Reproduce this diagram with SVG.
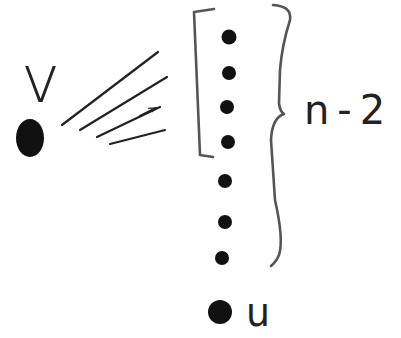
<svg xmlns="http://www.w3.org/2000/svg" width="401" height="338" viewBox="0 0 401 338">
<style>
.ink{fill:#111;}
.stroke{fill:none;stroke:#222;stroke-width:2.2;stroke-linecap:round;stroke-linejoin:round;}
.grey{fill:none;stroke:#555;stroke-width:2.6;stroke-linecap:round;stroke-linejoin:round;}
.lbl{font-family:"DejaVu Sans",sans-serif;fill:#222;}
</style>
<defs>
<marker id="half" viewBox="0 0 10 10" refX="9" refY="5" markerWidth="8" markerHeight="8" orient="auto" markerUnits="userSpaceOnUse">
<path d="M0,1 L9,5 L2,7" fill="none" stroke="#222" stroke-width="1.5"/>
</marker>
</defs>
<rect width="401" height="338" fill="#fff"/>
<g id="connectors">
<path class="stroke" d="M62,125 L158,52"/>
<path class="stroke" d="M80,130 L167,77"/>
<path class="stroke" d="M97,137 L160,107"/>
<path class="stroke" d="M140,116 L156,108" marker-end="url(#half)"/>
<path class="stroke" d="M110,144 L165,130"/>
</g>
<g id="node-v">
<ellipse class="ink" cx="30" cy="138" rx="14" ry="19"/>
<text class="lbl" x="21" y="102" font-size="66" font-weight="300" fill="#555">v</text>
</g>
<g id="bracket">
<path class="grey" d="M214,9 L194,12 L200,155 L213,157"/>
</g>
<g id="brace">
<path class="grey" d="M273,5 Q292,6 290,20 Q282,45 280,70 L279,103 Q280,112 284,114 Q272,118 271,140 L275,200 Q284,240 279,255 Q276,262 271,266"/>
<text class="lbl" x="304" y="124" font-size="40" letter-spacing="8">n-2</text>
</g>
<g id="dot1"><circle class="ink" cx="229" cy="37" r="7.5"/></g>
<g id="dot2"><circle class="ink" cx="229" cy="73" r="7"/></g>
<g id="dot3"><circle class="ink" cx="227" cy="107" r="7"/></g>
<g id="dot4"><circle class="ink" cx="228" cy="142" r="7"/></g>
<g id="dot5"><circle class="ink" cx="225" cy="181" r="7"/></g>
<g id="dot6"><circle class="ink" cx="225" cy="222" r="7"/></g>
<g id="dot7"><circle class="ink" cx="222" cy="258" r="7"/></g>
<g id="node-u">
<circle class="ink" cx="220" cy="312" r="12"/>
<text class="lbl" x="246" y="326" font-size="40" textLength="24" lengthAdjust="spacingAndGlyphs">u</text>
</g>
</svg>
